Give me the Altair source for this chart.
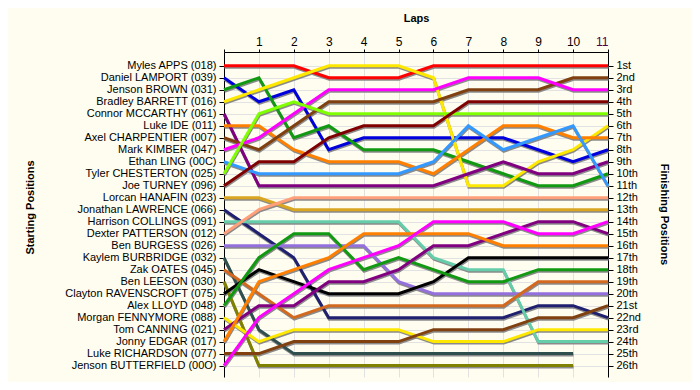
import json
import altair as alt
import pandas as pd

DRIVERS = [
    "Myles APPS (018)", "Daniel LAMPORT (039)", "Jenson BROWN (031)", "Bradley BARRETT (016)",
    "Connor MCCARTHY (061)", "Luke IDE (011)", "Axel CHARPENTIER (007)", "Mark KIMBER (047)",
    "Ethan LING (00C)", "Tyler CHESTERTON (025)", "Joe TURNEY (096)", "Lorcan HANAFIN (023)",
    "Jonathan LAWRENCE (066)", "Harrison COLLINGS (091)", "Dexter PATTERSON (012)",
    "Ben BURGESS (026)", "Kaylem BURBRIDGE (032)", "Zak OATES (045)", "Ben LEESON (030)",
    "Clayton RAVENSCROFT (075)", "Alex LLOYD (048)", "Morgan FENNYMORE (088)",
    "Tom CANNING (021)", "Jonny EDGAR (017)", "Luke RICHARDSON (077)", "Jenson BUTTERFIELD (00O)",
]

COLORS = [
    "#ff0000", "#0000dd", "#119911", "#ffe800", "#800080", "#ff8000", "#804010", "#ff00ff",
    "#3399ff", "#80ff00", "#800000", "#daa520", "#202070", "#66cdaa", "#ffa07a", "#9370db",
    "#2f4f4f", "#d2691e", "#808000", "#000000", "#119911", "#ffe800", "#800080", "#ff8000",
    "#804010", "#ff00ff",
]

# position at lap 0 (start) .. lap 11
POSITIONS = [
    [1, 1, 1, 2, 2, 2, 1, 1, 1, 1, 1, 1],
    [2, 4, 3, 8, 7, 7, 7, 7, 7, 8, 9, 8],
    [3, 2, 7, 6, 8, 8, 8, 9, 10, 11, 11, 10],
    [4, 3, 2, 1, 1, 1, 2, 11, 11, 9, 8, 6],
    [5, 11, 11, 11, 11, 11, 11, 10, 9, 10, 10, 9],
    [6, 6, 8, 9, 9, 9, 10, 8, 6, 6, 7, 7],
    [7, 8, 6, 4, 4, 4, 4, 3, 3, 3, 2, 2],
    [8, 7, 5, 3, 3, 3, 3, 2, 2, 2, 3, 3],
    [9, 10, 10, 10, 10, 10, 9, 6, 8, 7, 6, 11],
    [10, 5, 4, 5, 5, 5, 5, 5, 5, 5, 5, 5],
    [11, 9, 9, 7, 6, 6, 6, 4, 4, 4, 4, 4],
    [12, 12, 13, 13, 13, 13, 13, 13, 13, 13, 13, 13],
    [13, 15, 17, 22, 22, 22, 22, 22, 22, 21, 21, 22],
    [14, 14, 14, 14, 14, 14, 17, 18, 18, 24, 24, 24],
    [15, 13, 12, 12, 12, 12, 12, 12, 12, 12, 12, 12],
    [16, 16, 16, 16, 16, 19, 20, 20, 20, 20, 20, 20],
    [17, 23, 25, 25, 25, 25, 25, 25, 25, 25, 25],
    [18, 20, 22, 21, 21, 21, 21, 21, 21, 19, 19, 19],
    [19, 26, 26, 26, 26, 26, 26, 26, 26, 26, 26],
    [20, 18, 19, 20, 20, 20, 19, 17, 17, 17, 17, 17],
    [21, 17, 15, 15, 18, 17, 18, 19, 19, 18, 18, 18],
    [22, 24, 23, 23, 23, 23, 24, 24, 24, 23, 23, 23],
    [23, 21, 21, 19, 19, 18, 16, 16, 15, 14, 14, 15],
    [24, 19, 18, 17, 15, 15, 15, 15, 16, 16, 16, 16],
    [25, 25, 24, 24, 24, 24, 23, 23, 23, 22, 22, 21],
    [26, 22, 20, 18, 17, 16, 14, 14, 14, 15, 15, 14],
]

FINISH_LABELS = [
    "1st", "2nd", "3rd", "4th", "5th", "6th", "7th", "8th", "9th", "10th", "11th", "12th",
    "13th", "14th", "15th", "16th", "17th", "18th", "19th", "20th", "21st", "22nd", "23rd",
    "24th", "25th", "26th",
]

LAP_TICKS = list(range(12))
ROW_TICKS = list(range(1, 27))

rows = []
for i, (d, pos) in enumerate(zip(DRIVERS, POSITIONS)):
    for lap, p in enumerate(pos):
        rows.append({"driver": d, "idx": i, "lap": lap, "pos": p})
df = pd.DataFrame(rows)

FONT = "Liberation Sans"

x_scale = alt.Scale(domain=[0, 11], nice=False, zero=False)
y_scale = alt.Scale(domain=[-0.15, 26.95], reverse=True, nice=False, zero=False)

left_expr = json.dumps(DRIVERS) + "[datum.value - 1]"
right_expr = json.dumps(FINISH_LABELS) + "[datum.value - 1]"

x_axis = alt.Axis(
    orient="top", values=LAP_TICKS, title="Laps", labelExpr="datum.value == 0 ? '' : datum.label",
    grid=True, gridColor="#e2e2e2", domainColor="black", tickColor="black", tickSize=3,
    labelPadding=1, labelFont=FONT, labelFontSize=12, labelColor=alt.condition(
        "datum.value == 11", alt.value("#4a0050"), alt.value("black")),
    titleFont=FONT, titleFontSize=11, titleFontWeight="bold", titlePadding=12,
)

y_left = alt.Axis(
    orient="left", values=ROW_TICKS, labelExpr=left_expr, title="Starting Positions",
    grid=True, gridColor="#e2e2e2", domainColor="black", tickColor="black", tickSize=5,
    labelPadding=3, labelFont=FONT, labelFontSize=11, labelColor="black", labelOverlap=False,
    titleFont=FONT, titleFontSize=11, titleFontWeight="bold", titleAngle=-90,
    titleX=-194, titleY=155, titleAlign="center", titleBaseline="middle",
)

y_right = alt.Axis(
    orient="right", values=ROW_TICKS, labelExpr=right_expr, title="Finishing Positions",
    grid=False, domainColor="black", tickColor="black", tickSize=5,
    labelPadding=3, labelFont=FONT, labelFontSize=11, labelColor="black", labelOverlap=False,
    titleFont=FONT, titleFontSize=11, titleFontWeight="bold", titleAngle=90,
    titleX=55, titleY=162, titleAlign="center", titleBaseline="middle",
)

X = alt.X("lap:Q", scale=x_scale, axis=x_axis)

base = alt.Chart(df)

shadow = base.mark_line(color="#8a8a8a", strokeWidth=3, yOffset=1.5, xOffset=0.5).encode(
    x=X,
    y=alt.Y("pos:Q", scale=y_scale, axis=None),
    detail="driver:N",
    order="lap:Q",
)

lines = base.mark_line(strokeWidth=3).encode(
    x=X,
    y=alt.Y("pos:Q", scale=y_scale, axis=y_left),
    color=alt.Color("driver:N", scale=alt.Scale(domain=DRIVERS, range=COLORS), legend=None),
    order="lap:Q",
)

right = base.mark_line(opacity=0).encode(
    x=X,
    y=alt.Y("pos:Q", scale=y_scale, axis=y_right),
    detail="driver:N",
)

chart = (
    alt.layer(shadow, lines, right)
    .resolve_axis(y="independent")
    .properties(
        width=384, height=325,
        autosize=alt.AutoSizeParams(type="none"),
        padding={"left": 216, "top": 44, "right": 84, "bottom": 5},
        background="#fffdf0",
    )
    .configure_view(strokeWidth=0)
)

chart.save("out.html", embed_options={"renderer": "svg", "actions": False})
